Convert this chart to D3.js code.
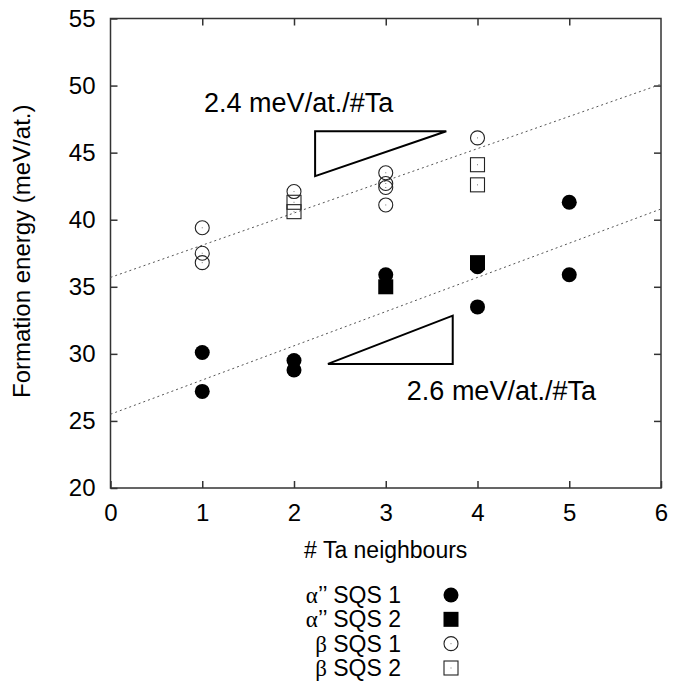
<!DOCTYPE html>
<html>
<head>
<meta charset="utf-8">
<script src="https://cdn.jsdelivr.net/npm/d3@7"></script>
<style>
  html, body { margin: 0; padding: 0; background: #fff; }
  svg { display: block; font-family: "Liberation Sans", Arial, Helvetica, sans-serif; }
</style>
</head>
<body>
<svg id="chart" width="684" height="684"></svg>
<script>
// ---- data ----
const xTicks = [0, 1, 2, 3, 4, 5, 6];
const yTicks = [20, 25, 30, 35, 40, 45, 50, 55];

const alpha1X = [1, 1, 2, 2, 3, 4, 4, 5, 5];
const alpha1Y = [30.1, 27.2, 29.5, 28.8, 35.9, 33.5, 36.5, 41.3, 35.9];
const alpha2X = [3, 4];
const alpha2Y = [35.0, 36.8];
const beta1X = [1, 1, 1, 2, 3, 3, 3, 3, 4];
const beta1Y = [39.4, 37.5, 36.8, 42.1, 43.5, 42.7, 42.4, 41.1, 46.1];
const beta2X = [2, 2, 4, 4];
const beta2Y = [41.3, 40.6, 44.1, 42.6];

const fitIntercepts = [35.7, 25.5];
const fitSlopes = [2.4, 2.55];

const slopeLabels = ["2.4 meV/at./#Ta", "2.6 meV/at./#Ta"];
const upperTriangle = [[2.23, 46.6], [3.66, 46.6], [2.23, 43.25]];
const lowerTriangle = [[2.37, 29.25], [3.73, 29.25], [3.73, 32.85]];
const labelAnchors = [[1.02, 48.0], [3.23, 26.55]];

const legendGreek = ["α", "α", "β", "β"];
const legendRest = ["’’ SQS 1", "’’ SQS 2", " SQS 1", " SQS 2"];
const legendShapes = ["circle", "square", "circle", "square"];
const legendFilled = [true, true, false, false];

const xTitle = "# Ta neighbours";
const yTitle = "Formation energy (meV/at.)";

// ---- layout ----
const svg = d3.select("#chart");
const L = 110.5, R = 661, T = 18.5, B = 488;
const x = d3.scaleLinear().domain([0, 6]).range([L, R]);
const y = d3.scaleLinear().domain([20, 55]).range([B, T]);
const axisColor = "#333";

// frame
svg.append("rect").attr("x", L).attr("y", T).attr("width", R - L).attr("height", B - T)
  .attr("fill", "none").attr("stroke", axisColor).attr("stroke-width", 1.5);

function styleAxis(g, showText) {
  g.select(".domain").remove();
  g.selectAll(".tick line").attr("stroke", axisColor).attr("stroke-width", 1.5);
  g.selectAll(".tick text").attr("fill", "#000").style("font-size", "24px")
    .style("font-family", "'Liberation Sans', Arial, sans-serif");
  if (!showText) g.selectAll(".tick text").remove();
}

svg.append("g").attr("transform", `translate(0,${B})`)
  .call(d3.axisBottom(x).tickValues(xTicks).tickFormat(d3.format("d")).tickSizeInner(-7).tickSizeOuter(0).tickPadding(16))
  .call(g => styleAxis(g, true));
svg.append("g").attr("transform", `translate(0,${T})`)
  .call(d3.axisTop(x).tickValues(xTicks.slice(1, -1)).tickSizeInner(-7).tickSizeOuter(0))
  .call(g => styleAxis(g, false));
svg.append("g").attr("transform", `translate(${L},0)`)
  .call(d3.axisLeft(y).tickValues(yTicks).tickFormat(d3.format("d")).tickSizeInner(-7).tickSizeOuter(0).tickPadding(15))
  .call(g => styleAxis(g, true));
svg.append("g").attr("transform", `translate(${R},0)`)
  .call(d3.axisRight(y).tickValues(yTicks.slice(1, -1)).tickSizeInner(-7).tickSizeOuter(0))
  .call(g => styleAxis(g, false));

// axis titles
svg.append("text").attr("x", (L + R) / 2).attr("y", 558).attr("text-anchor", "middle")
  .style("font-size", "23px").text(xTitle);
svg.append("text").attr("transform", `translate(30,${(T + B) / 2 - 2}) rotate(-90)`)
  .attr("text-anchor", "middle").style("font-size", "24px").text(yTitle);

// fit lines
fitIntercepts.forEach((b, i) => {
  svg.append("line")
    .attr("x1", x(0)).attr("y1", y(b))
    .attr("x2", x(6)).attr("y2", y(b + fitSlopes[i] * 6))
    .attr("stroke", "#555").attr("stroke-width", 1).attr("stroke-dasharray", "2,3");
});

// slope triangles
const tri = d3.line().x(d => x(d[0])).y(d => y(d[1]));
[upperTriangle, lowerTriangle].forEach(t => {
  svg.append("path").attr("d", tri(t) + "Z").attr("fill", "none")
    .attr("stroke", "#000").attr("stroke-width", 2).attr("stroke-linejoin", "miter");
});
slopeLabels.forEach((s, i) => {
  svg.append("text").attr("x", x(labelAnchors[i][0])).attr("y", y(labelAnchors[i][1]))
    .style("font-size", "27px").text(s);
});

// markers
const rad = 7.5, sq = 15;
function drawMarker(g, shape, filled, cx, cy) {
  if (shape === "circle") {
    g.append("circle").attr("cx", cx).attr("cy", cy).attr("r", filled ? rad : rad - 0.5)
      .attr("fill", filled ? "#000" : "none").attr("stroke", filled ? "none" : "#222").attr("stroke-width", 1.1);
  } else {
    const s = filled ? sq : sq - 1;
    g.append("rect").attr("x", cx - s / 2).attr("y", cy - s / 2).attr("width", s).attr("height", s)
      .attr("fill", filled ? "#000" : "none").attr("stroke", filled ? "none" : "#222").attr("stroke-width", 1.1);
  }
  if (!filled) {
    g.append("rect").attr("x", cx - 0.5).attr("y", cy - 0.5).attr("width", 1).attr("height", 1).attr("fill", "#777");
  }
}
const series = [
  [beta1X, beta1Y, "circle", false],
  [beta2X, beta2Y, "square", false],
  [alpha1X, alpha1Y, "circle", true],
  [alpha2X, alpha2Y, "square", true]
];
const pts = svg.append("g");
series.forEach(([xs, ys, shape, filled]) => {
  xs.forEach((xv, i) => drawMarker(pts, shape, filled, x(xv), y(ys[i])));
});

// legend
const legY = d3.scaleLinear().domain([0, 3]).range([595, 668]);
const leg = svg.append("g");
legendGreek.forEach((gk, i) => {
  const t = leg.append("text").attr("x", 401).attr("y", legY(i)).attr("dy", "0.35em")
    .attr("text-anchor", "end").style("font-size", "23px");
  t.append("tspan").style("font-family", "'Liberation Serif', 'DejaVu Serif', serif").text(gk);
  t.append("tspan").text(legendRest[i]);
  drawMarker(leg, legendShapes[i], legendFilled[i], 451, legY(i));
});
</script>
</body>
</html>
